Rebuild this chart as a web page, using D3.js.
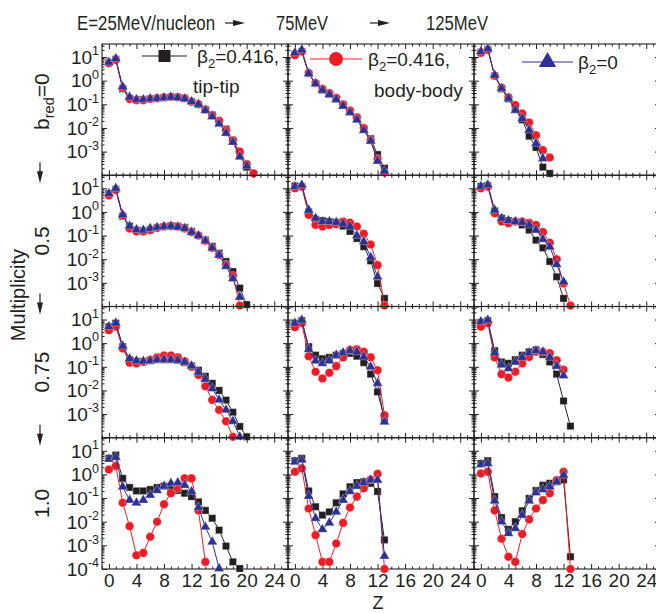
<!DOCTYPE html>
<html><head><meta charset="utf-8">
<script src="https://cdn.jsdelivr.net/npm/d3@7"></script>
<style>
body{margin:0;background:#fff}
text{font-family:"Liberation Sans",Arial,sans-serif;fill:#231f20}
</style>
</head><body>
<svg id="c" width="656" height="613"></svg>
<script>
// ---------- labels ----------
const energyLabels = ["E=25MeV/nucleon", "75MeV", "125MeV"];
const bredLabels = ["0", "0.5", "0.75", "1.0"];
const xTickValues = [0, 4, 8, 12, 16, 20, 24];
const yTickExps = [1, 0, -1, -2, -3, -4];
const legendLabels = ["β2=0.416, tip-tip", "β2=0.416, body-body", "β2=0"];

// ---------- data: multiplicity vs Z (Z = 0,1,2,...) ----------
// b_red = 0
const tip_b0_E25  = [6, 8, 0.45, 0.18, 0.16, 0.16, 0.17, 0.18, 0.19, 0.2, 0.2, 0.18, 0.13, 0.1, 0.06, 0.035, 0.018, 0.009, 0.003, 7e-4, 2.2e-4];
const body_b0_E25 = [5.5, 7.5, 0.5, 0.17, 0.15, 0.15, 0.17, 0.18, 0.2, 0.21, 0.2, 0.18, 0.13, 0.1, 0.06, 0.035, 0.02, 0.008, 0.003, 0.001, 3e-4, 1.2e-4];
const sph_b0_E25  = [6, 8.5, 0.55, 0.2, 0.16, 0.16, 0.17, 0.18, 0.19, 0.2, 0.19, 0.17, 0.13, 0.1, 0.055, 0.03, 0.015, 0.006, 0.0025, 6e-4, 2.5e-4];
const tip_b0_E75  = [13, 17, 2.0, 0.76, 0.4, 0.27, 0.17, 0.09, 0.05, 0.025, 0.009, 0.0035, 7.5e-4, 2e-4];
const body_b0_E75 = [12, 17, 2.1, 0.8, 0.45, 0.3, 0.19, 0.1, 0.055, 0.028, 0.01, 0.003, 5e-4, 1.3e-4];
const sph_b0_E75  = [15, 20, 2.0, 0.75, 0.4, 0.26, 0.16, 0.085, 0.045, 0.022, 0.008, 0.0028, 4e-4, 1.5e-4];
const tip_b0_E125  = [16, 21, 1.6, 0.45, 0.17, 0.062, 0.022, 0.0045, 0.0015, 2.2e-4, 1.2e-4];
const body_b0_E125 = [15, 20, 1.6, 0.5, 0.2, 0.093, 0.041, 0.017, 0.0049, 0.00115, 5.6e-4];
const sph_b0_E125  = [17, 22, 1.7, 0.47, 0.18, 0.056, 0.025, 0.0081, 0.0022, 5.1e-4];
// b_red = 0.5
const tip_b05_E25  = [6, 9, 0.65, 0.25, 0.17, 0.16, 0.18, 0.22, 0.24, 0.26, 0.25, 0.22, 0.15, 0.1, 0.065, 0.035, 0.018, 0.008, 0.003, 6e-4, 1.2e-4];
const body_b05_E25 = [5, 8.5, 0.7, 0.2, 0.15, 0.15, 0.17, 0.21, 0.24, 0.25, 0.24, 0.2, 0.14, 0.1, 0.06, 0.03, 0.015, 0.006, 0.002, 1.1e-4];
const sph_b05_E25  = [6, 10, 0.75, 0.25, 0.18, 0.17, 0.2, 0.22, 0.24, 0.25, 0.23, 0.2, 0.14, 0.1, 0.06, 0.03, 0.015, 0.005, 0.0015, 2.5e-4];
const tip_b05_E75  = [12.5, 11.7, 1.0, 0.49, 0.43, 0.39, 0.36, 0.25, 0.15, 0.075, 0.034, 0.0085, 9.4e-4, 2.2e-4];
const body_b05_E75 = [10, 11.7, 0.75, 0.28, 0.24, 0.28, 0.3, 0.39, 0.35, 0.24, 0.12, 0.042, 0.0056, 1.1e-4];
const sph_b05_E75  = [11.7, 13.8, 1.2, 0.54, 0.39, 0.39, 0.36, 0.31, 0.24, 0.1, 0.055, 0.012, 0.0018];
const tip_b05_E125  = [12, 13, 1.1, 0.54, 0.43, 0.39, 0.28, 0.17, 0.064, 0.03, 0.008, 0.0018, 2.2e-4];
const body_b05_E125 = [10, 11.7, 0.87, 0.39, 0.33, 0.39, 0.39, 0.35, 0.28, 0.14, 0.05, 0.01, 9.4e-4, 1.1e-4];
const sph_b05_E125  = [12, 14, 1.2, 0.54, 0.43, 0.39, 0.36, 0.28, 0.17, 0.07, 0.033, 0.006, 0.0011];
// b_red = 0.75
const tip_b075_E25  = [5, 7, 0.71, 0.2, 0.17, 0.17, 0.18, 0.2, 0.2, 0.2, 0.19, 0.15, 0.11, 0.072, 0.04, 0.02, 0.01, 0.0039, 0.0012, 3e-4, 1.1e-4];
const body_b075_E25 = [3.5, 5, 0.6, 0.15, 0.14, 0.16, 0.2, 0.25, 0.3, 0.3, 0.25, 0.17, 0.1, 0.045, 0.015, 0.004, 0.0015, 5e-4, 1.1e-4];
const sph_b075_E25  = [5, 7, 0.75, 0.22, 0.18, 0.17, 0.18, 0.2, 0.2, 0.2, 0.19, 0.16, 0.11, 0.06, 0.03, 0.012, 0.004, 0.0015, 5e-4, 1.1e-4];
const tip_b075_E75  = [7, 8.9, 0.71, 0.31, 0.22, 0.25, 0.31, 0.37, 0.37, 0.28, 0.15, 0.049, 0.0087, 6.4e-4];
const body_b075_E75 = [4.7, 6.9, 0.28, 0.062, 0.032, 0.056, 0.107, 0.25, 0.52, 0.55, 0.43, 0.25, 0.072, 8.9e-4];
const sph_b075_E75  = [7, 9.5, 0.55, 0.18, 0.14, 0.18, 0.31, 0.39, 0.48, 0.43, 0.26, 0.1, 0.02, 4.7e-4];
const tip_b075_E125  = [7.5, 8.9, 0.48, 0.16, 0.14, 0.2, 0.31, 0.43, 0.52, 0.33, 0.16, 0.049, 0.0036, 3.1e-4];
const body_b075_E125 = [5.0, 6.9, 0.25, 0.049, 0.035, 0.062, 0.14, 0.26, 0.43, 0.43, 0.37, 0.19, 0.075];
const sph_b075_E125  = [8.2, 9.5, 0.39, 0.12, 0.085, 0.16, 0.25, 0.39, 0.48, 0.43, 0.25, 0.107, 0.042];
// b_red = 1.0
const tip_b1_E25  = [4.8, 6.6, 0.68, 0.28, 0.2, 0.2, 0.23, 0.28, 0.32, 0.23, 0.21, 0.16, 0.115, 0.069, 0.03, 0.014, 0.0044, 9.3e-4, 2e-4, 1.05e-4];
const body_b1_E25 = [1.6, 2.3, 0.063, 0.0065, 3.8e-4, 4.8e-4, 0.0023, 0.01, 0.055, 0.16, 0.26, 0.68, 0.68, 0.03, 2e-4];
const sph_b1_E25  = [4.4, 5.3, 0.3, 0.082, 0.063, 0.082, 0.135, 0.21, 0.32, 0.42, 0.45, 0.35, 0.19, 0.04, 0.006, 0.0014, 1.05e-4];
const tip_b1_E75  = [3.8, 4.8, 0.2, 0.043, 0.019, 0.026, 0.063, 0.15, 0.3, 0.45, 0.49, 0.42, 0.19, 0.0017];
const body_b1_E75 = [1.3, 1.8, 0.036, 0.0027, 2e-4, 2e-4, 0.0012, 0.0089, 0.04, 0.115, 0.26, 0.61, 1.05, 1e-4];
const sph_b1_E75  = [3.4, 4.1, 0.12, 0.014, 0.0047, 0.0089, 0.026, 0.082, 0.19, 0.32, 0.45, 0.58, 0.58, 3.5e-4];
const tip_b1_E125  = [2.9, 3.8, 0.115, 0.015, 0.0047, 0.01, 0.029, 0.097, 0.21, 0.35, 0.42, 0.49, 0.58, 3.3e-4];
const body_b1_E125 = [1.1, 1.3, 0.03, 0.0019, 3.3e-4, 2e-4, 0.003, 0.0125, 0.036, 0.082, 0.16, 0.58, 1.3, 1e-4];
const sph_b1_E125  = [2.6, 2.9, 0.077, 0.01, 0.0032, 0.0052, 0.019, 0.077, 0.17, 0.23, 0.3, 0.49, 0.93];

// table built from the arrays: rows = b_red, cols = energy
const panels = [
  [[tip_b0_E25, body_b0_E25, sph_b0_E25], [tip_b0_E75, body_b0_E75, sph_b0_E75], [tip_b0_E125, body_b0_E125, sph_b0_E125]],
  [[tip_b05_E25, body_b05_E25, sph_b05_E25], [tip_b05_E75, body_b05_E75, sph_b05_E75], [tip_b05_E125, body_b05_E125, sph_b05_E125]],
  [[tip_b075_E25, body_b075_E25, sph_b075_E25], [tip_b075_E75, body_b075_E75, sph_b075_E75], [tip_b075_E125, body_b075_E125, sph_b075_E125]],
  [[tip_b1_E25, body_b1_E25, sph_b1_E25], [tip_b1_E75, body_b1_E75, sph_b1_E75], [tip_b1_E125, body_b1_E125, sph_b1_E125]]
];

// ---------- drawing ----------
const svg = d3.select("#c");
const INK = "#231f20";
const seriesColor = ["#231f20", "#ed1c24", "#2e3192"];
const seriesShape = [d3.symbolSquare, d3.symbolCircle, d3.symbolTriangle];
const markerSize = [52, 58, 44];
const left0 = 102, colW = 186, top0 = 44, rowH = 131.25;
const x = d3.scaleLinear().domain([-1, 26]).range([0, colW]);
const y = d3.scaleLog().domain([1e-4, Math.pow(10, 1.55)]).range([rowH, 0]);

const yMinor = [];
for (let e = -4; e <= 1; e++) for (let m = 2; m <= 9; m++) { const v = m * Math.pow(10, e); if (v < Math.pow(10, 1.55)) yMinor.push(v); }
const yMajor = yTickExps.map(e => Math.pow(10, e));
const xMinor = d3.range(-1, 27).filter(v => v % 4 !== 0);

function styleAxis(sel) {
  sel.select(".domain").remove();
  sel.selectAll(".tick line").attr("stroke", INK).attr("stroke-width", 1);
  sel.selectAll("text").attr("fill", INK).style("font-family", '"Liberation Sans",Arial,sans-serif');
}

for (let r = 0; r < 4; r++) {
  for (let c = 0; c < 3; c++) {
    const g = svg.append("g").attr("transform", `translate(${left0 + c * colW},${top0 + r * rowH})`);
    // ticks (inward) on all four sides
    g.append("g").attr("transform", `translate(0,${rowH})`).call(d3.axisBottom(x).tickValues(xMinor).tickSize(-2.5).tickFormat("")).call(styleAxis);
    g.append("g").call(d3.axisTop(x).tickValues(xMinor).tickSize(-2.5).tickFormat("")).call(styleAxis);
    g.append("g").call(d3.axisTop(x).tickValues(xTickValues).tickSize(-5).tickFormat("")).call(styleAxis);
    const bx = g.append("g").attr("transform", `translate(0,${rowH})`)
      .call(d3.axisBottom(x).tickValues(xTickValues).tickSize(-5).tickPadding(4)
        .tickFormat(r === 3 ? d3.format("d") : ""));
    styleAxis(bx);
    bx.selectAll("text").style("font-size", "19px").attr("dy", "0.75em");
    g.append("g").call(d3.axisLeft(y).tickValues(yMinor).tickSize(-2.5).tickFormat("")).call(styleAxis);
    g.append("g").call(d3.axisLeft(y).tickValues(yMajor).tickSize(-5).tickFormat("")).call(styleAxis);
    g.append("g").attr("transform", `translate(${colW},0)`).call(d3.axisRight(y).tickValues(yMinor).tickSize(-2.5).tickFormat("")).call(styleAxis);
    g.append("g").attr("transform", `translate(${colW},0)`).call(d3.axisRight(y).tickValues(yMajor).tickSize(-5).tickFormat("")).call(styleAxis);
    g.append("rect").attr("width", colW).attr("height", rowH).attr("fill", "none").attr("stroke", INK).attr("stroke-width", 1.1);

    if (c === 0) {
      yTickExps.filter(e => r === 3 || e > -4).forEach(e => {
        const t = g.append("text").attr("x", -3).attr("y", y(Math.pow(10, e)) + 6.8)
          .attr("text-anchor", "end").style("font-size", "19px");
        t.append("tspan").text("10");
        t.append("tspan").attr("dy", -8.5).style("font-size", "12.5px").text(e < 0 ? "-" + (-e) : String(e));
      });
    }

    const data = panels[r][c];
    data.forEach((vals, s) => {
      const pts = vals.map((v, i) => ({ z: i, v })).filter(d => d.v != null);
      g.append("path").datum(pts)
        .attr("d", d3.line().x(d => x(d.z)).y(d => y(d.v)))
        .attr("fill", "none").attr("stroke", seriesColor[s]).attr("stroke-width", 1);
      g.selectAll(null).data(pts).enter().append("path")
        .attr("transform", d => `translate(${x(d.z)},${y(d.v)})`)
        .attr("d", d3.symbol().type(seriesShape[s]).size(markerSize[s]))
        .attr("fill", seriesColor[s]).attr("stroke", "rgba(255,255,255,0.5)").attr("stroke-width", 0.6);
    });
  }
}

// ---------- legends ----------
const legendPos = [
  { x1: 142, x2: 187, y: 56, tx: 197, second: "tip-tip", sx: 193, sy: 93 },
  { x1: 310, x2: 362, y: 59, tx: 368, second: "body-body", sx: 374, sy: 97 },
  { x1: 522, x2: 573, y: 62, tx: 578, second: null }
];
const legendSize = [144, 150, 130];
legendPos.forEach((p, s) => {
  svg.append("line").attr("x1", p.x1).attr("x2", p.x2).attr("y1", p.y).attr("y2", p.y)
    .attr("stroke", seriesColor[s]).attr("stroke-width", 1);
  svg.append("path").attr("transform", `translate(${(p.x1 + p.x2) / 2},${p.y})`)
    .attr("d", d3.symbol().type(seriesShape[s]).size(legendSize[s])).attr("fill", seriesColor[s]);
  const t = svg.append("text").attr("x", p.tx).attr("y", p.y + 7).style("font-size", "19px");
  const lbl = legendLabels[s].split(", ")[0];
  t.append("tspan").text("β");
  t.append("tspan").attr("dy", 5).style("font-size", "13px").text("2");
  t.append("tspan").attr("dy", -5).text(lbl.slice(2) + (p.second ? "," : ""));
  if (p.second) svg.append("text").attr("x", p.sx).attr("y", p.sy).style("font-size", "19px").text(p.second);
});

// ---------- titles ----------
const titleX = [146, 302, 457];
const titleW = [138, 52, 62];
energyLabels.forEach((lbl, i) => {
  svg.append("text").attr("x", titleX[i]).attr("y", 30).attr("text-anchor", "middle")
    .attr("textLength", titleW[i]).attr("lengthAdjust", "spacingAndGlyphs")
    .style("font-size", "20.5px").text(lbl);
});
function hArrow(x1, x2, yy) {
  svg.append("line").attr("x1", x1).attr("x2", x2 - 8).attr("y1", yy).attr("y2", yy).attr("stroke", INK).attr("stroke-width", 1.2);
  svg.append("path").attr("d", `M${x2},${yy} L${x2 - 12},${yy - 3} L${x2 - 12},${yy + 3} Z`).attr("fill", INK);
}
hArrow(225, 245, 23);
hArrow(370, 390, 23);

// ---------- row labels ----------
function vText(cx, cy, size) {
  return svg.append("text").attr("transform", `translate(${cx},${cy}) rotate(-90)`)
    .attr("text-anchor", "middle").style("font-size", size + "px");
}
bredLabels.forEach((lbl, r) => {
  const cy = top0 + r * rowH + rowH / 2 + (r === 0 ? -8 : 0);
  const t = vText(49, cy, 21);
  if (r === 0) {
    t.append("tspan").text("b");
    t.append("tspan").attr("dy", 5).style("font-size", "14.5px").text("red");
    t.append("tspan").attr("dy", -5).text("=" + lbl);
  } else t.text(lbl);
});
function vArrow(xx, y1, y2) {
  svg.append("line").attr("x1", xx).attr("x2", xx).attr("y1", y1).attr("y2", y2 - 8).attr("stroke", INK).attr("stroke-width", 1.2);
  svg.append("path").attr("d", `M${xx},${y2} L${xx - 3},${y2 - 12} L${xx + 3},${y2 - 12} Z`).attr("fill", INK);
}
[1, 2, 3].forEach(r => vArrow(40, top0 + r * rowH - 13, top0 + r * rowH + 8));

vText(25, 295, 20).text("Multiplicity");
svg.append("text").attr("x", 378).attr("y", 609).attr("text-anchor", "middle").style("font-size", "18px").text("Z");
</script>
</body></html>
